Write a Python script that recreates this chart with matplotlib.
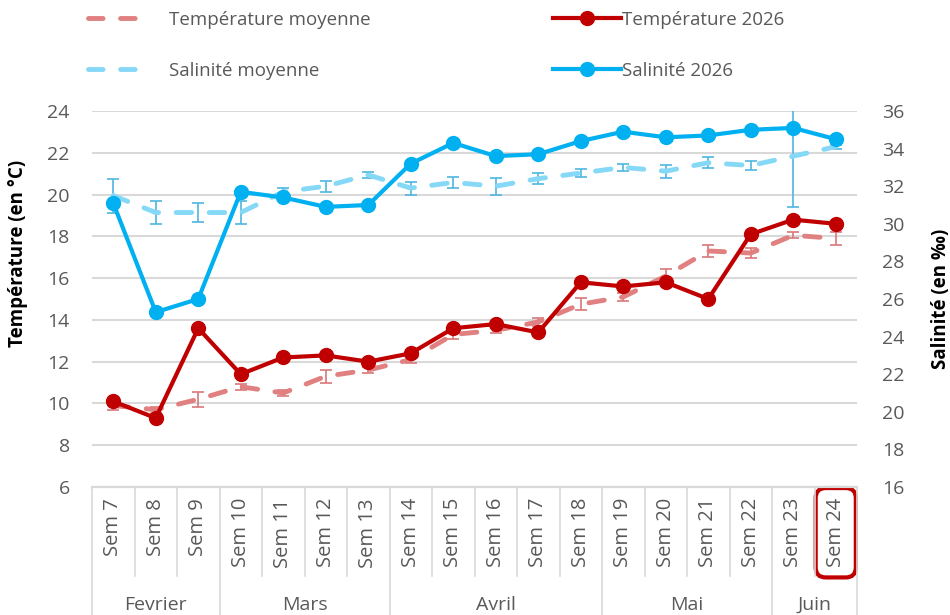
import numpy as np
import matplotlib.pyplot as plt
from matplotlib.lines import Line2D

plt.rcParams['font.family'] = ['Open Sans', 'DejaVu Sans']

semaines = ['Sem 7', 'Sem 8', 'Sem 9', 'Sem 10', 'Sem 11', 'Sem 12', 'Sem 13', 'Sem 14', 'Sem 15',
            'Sem 16', 'Sem 17', 'Sem 18', 'Sem 19', 'Sem 20', 'Sem 21', 'Sem 22', 'Sem 23', 'Sem 24']
mois = ['Fevrier', 'Mars', 'Avril', 'Mai', 'Juin']
nb_sem_mois = [3, 4, 5, 4, 2]

temp_2026 = [10.1, 9.3, 13.6, 11.4, 12.2, 12.3, 12.0, 12.4, 13.6, 13.8, 13.4, 15.8, 15.6, 15.8, 15.0, 18.1, 18.8, 18.6]
temp_moy = [9.9, 9.7, 10.2, 10.8, 10.5, 11.3, 11.6, 12.1, 13.3, 13.5, 13.9, 14.75, 15.1, 16.1, 17.3, 17.2, 18.05, 17.9]
temp_moy_err = [0.2, 0.15, 0.35, 0.15, 0.15, 0.3, 0.15, 0.15, 0.2, 0.15, 0.2, 0.3, 0.2, 0.35, 0.3, 0.25, 0.15, 0.3]

sal_2026 = [31.1, 25.3, 26.0, 31.7, 31.4, 30.9, 31.0, 33.2, 34.3, 33.6, 33.7, 34.4, 34.9, 34.6, 34.7, 35.0, 35.1, 34.5]
sal_moy = [31.5, 30.6, 30.6, 30.6, 31.7, 32.0, 32.6, 31.9, 32.2, 32.0, 32.4, 32.7, 33.0, 32.8, 33.25, 33.1, 33.6, 34.1]
sal_moy_err = [0.9, 0.6, 0.5, 0.6, 0.2, 0.3, 0.15, 0.35, 0.3, 0.45, 0.3, 0.2, 0.2, 0.35, 0.3, 0.25, 2.7, 0.1]

rouge = '#C00000'
rouge_clair = '#E08080'
bleu = '#00B0F0'
bleu_clair = '#86D8F7'
gris_txt = '#595959'
gris_grille = '#D9D9D9'

fig = plt.figure(figsize=(9.5, 6.15), dpi=100)
ax = fig.add_axes([92/950, 1-487/615, 765/950, 376/615])
ax2 = ax.twinx()

x = np.arange(len(semaines))

# temperature (axe gauche)
ax.errorbar(x, temp_moy, yerr=temp_moy_err, fmt='none', ecolor='#D9787A', elinewidth=1.2, capsize=4, capthick=1.2, zorder=2)
ax.plot(x, temp_moy, color=rouge_clair, lw=3.5, linestyle=(0, (3.2, 3.6)), dash_capstyle='round', zorder=3)
ax.plot(x, temp_2026, color=rouge, lw=3, marker='o', markersize=10, zorder=4)

# salinite (axe droit)
ax2.errorbar(x, sal_moy, yerr=sal_moy_err, fmt='none', ecolor='#4FB6E0', elinewidth=1.2, capsize=4, capthick=1.2, zorder=2)
ax2.plot(x, sal_moy, color=bleu_clair, lw=3.5, linestyle=(0, (3.2, 3.6)), dash_capstyle='round', zorder=3)
ax2.plot(x, sal_2026, color=bleu, lw=3, marker='o', markersize=10, zorder=4)

ax.set_xlim(-0.5, len(semaines)-0.5)
ax.set_ylim(6, 24)
ax.set_yticks(np.arange(6, 25, 2))
ax2.set_ylim(16, 36)
ax2.set_yticks(np.arange(16, 37, 2))

ax.grid(axis='y', color=gris_grille, lw=1.5)
ax.set_axisbelow(True)
for a in (ax, ax2):
    for s in ['top', 'left', 'right']:
        a.spines[s].set_visible(False)
    a.spines['bottom'].set_color(gris_grille)
    a.spines['bottom'].set_linewidth(1.5)

ax.tick_params(axis='y', length=0, pad=16, labelsize=14, labelcolor=gris_txt)
ax2.tick_params(axis='y', length=0, pad=18, labelsize=14, labelcolor=gris_txt)

ax.set_xticks(x)
ax.set_xticklabels(semaines, rotation=90, fontsize=14.5, color=gris_txt)
ax.tick_params(axis='x', length=0, pad=8)
lab24 = ax.get_xticklabels()[-1]
lab24.set_bbox(dict(boxstyle='round,pad=0.5', fc='none', ec=rouge, lw=3))

ax.set_ylabel('Température (en °C)', fontsize=13.5, fontweight='bold', color='black')
ax.yaxis.set_label_coords(-0.084, 0.62)
ax2.set_ylabel('Salinité (en ‰)', fontsize=13.5, fontweight='bold', color='black', rotation=90)
ax2.yaxis.set_label_coords(1.097, 0.5)

# grille des categories sous l'axe
trans = ax.get_xaxis_transform()
bas_sem = -(576-487)/376
bas_mois = -(615-487)/376
limites_mois = np.cumsum([0] + nb_sem_mois) - 0.5
for b in np.arange(-0.5, len(semaines), 1.0):
    bas = bas_mois if b in limites_mois else bas_sem
    ax.plot([b, b], [0, bas], transform=trans, color=gris_grille, lw=1.2, clip_on=False)

for i, m in enumerate(mois):
    centre = (limites_mois[i] + limites_mois[i+1]) / 2
    ax.text(centre, -(605-487)/376, m, transform=trans, ha='center', va='center', fontsize=14, color=gris_txt)

# legende
h_tm = Line2D([], [], color=rouge_clair, lw=3.5, linestyle=(0, (3.0, 3.6)), dash_capstyle='round')
h_sm = Line2D([], [], color=bleu_clair, lw=3.5, linestyle=(0, (3.0, 3.6)), dash_capstyle='round')
h_t = Line2D([], [], color=rouge, lw=3, marker='o', markersize=10)
h_s = Line2D([], [], color=bleu, lw=3, marker='o', markersize=10)

leg1 = fig.legend([h_tm, h_sm], ['Température moyenne', 'Salinité moyenne'], loc='upper left',
                  bbox_to_anchor=(88/950, 1-11/615), frameon=False, fontsize=13.5, labelcolor=gris_txt,
                  handlelength=3.4, handletextpad=0.9, labelspacing=1.75, borderpad=0, borderaxespad=0)
leg2 = fig.legend([h_t, h_s], ['Température 2026', 'Salinité 2026'], loc='upper left',
                  bbox_to_anchor=(553/950, 1-11/615), frameon=False, fontsize=13.5, labelcolor=gris_txt,
                  handlelength=3.6, handletextpad=0.1, labelspacing=1.75, borderpad=0, borderaxespad=0)

fig.savefig('out.png', dpi=100)
